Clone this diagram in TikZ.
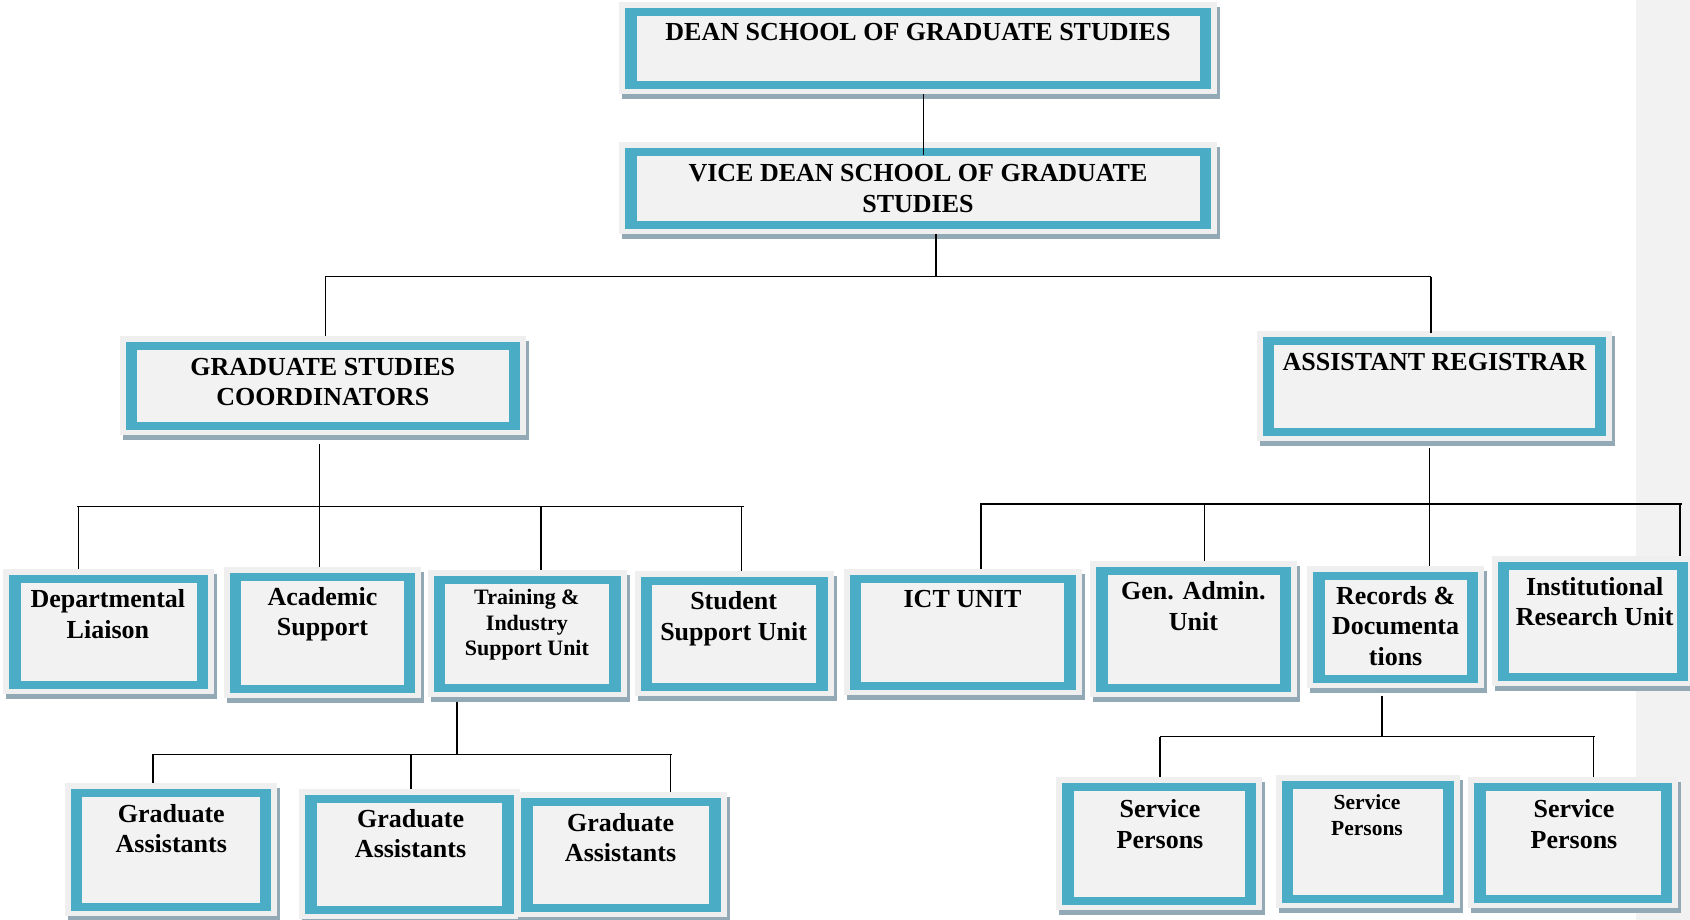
\documentclass[tikz,border=0pt]{standalone}
\usepackage{fontspec}
\setmainfont{Liberation Serif}
\definecolor{tealc}{HTML}{4BACC6}
\definecolor{innerc}{HTML}{F2F2F2}
\definecolor{panelc}{HTML}{EFEFEF}
\definecolor{shadowc}{HTML}{93A9B5}
\definecolor{stripc}{HTML}{F2F2F2}
\tikzset{
  conn/.style={draw=black, line width=1.4pt},
  panelbox/.style={rectangle, fill=panelc, inner sep=0pt, outer sep=0pt},
  boxtext/.style={anchor=north, align=center, inner sep=0pt, outer sep=0pt},
}
\newcommand\bigf{\fontsize{26}{30.5}\selectfont}
\newcommand\smallf{\fontsize{22}{25.5}\selectfont}
\newcommand\spf{\fontsize{21.5}{26}\selectfont}
% #1 name, #2-#5 teal frame x1 y1 x2 y2, #6 text centre x, #7 text top y, #8 font, #9 text
\newcommand\orgbox[9]{%
  \fill[shadowc] ({#2-3},{#3-1}) rectangle ({#4+9},{#5+10});
  \node[panelbox, minimum width={#4-#2+12}, minimum height={#5-#3+11}] (#1) at ({(#2+#4)/2},{(#3+#5)/2-0.5}) {};
  \fill[tealc] (#2,#3) rectangle (#4,#5);
  \fill[innerc] ({#2+11.5},{#3+8}) rectangle ({#4-11.5},{#5-8});
  \node[boxtext, font={\bfseries#8}] (#1-t) at (#6,#7) {#9};
}
\begin{document}
\begin{tikzpicture}[x=1pt,y=-1pt]
\useasboundingbox (0,0) rectangle (1690,920);
\fill[stripc] (1636,0) rectangle (1690,920);

% level 1-2
\orgbox{dean}{625}{8.3}{1211}{89}{918}{23.5}{\bigf}{DEAN SCHOOL OF GRADUATE STUDIES}
\orgbox{vdean}{625}{148}{1211}{229}{918}{164.5}{\bigf}{VICE DEAN SCHOOL OF GRADUATE\\STUDIES}
% level 3
\orgbox{gsc}{125.7}{342.3}{520.3}{430}{322.8}{357.8}{\bigf}{GRADUATE STUDIES\\COORDINATORS}
\orgbox{areg}{1262.8}{337.3}{1606.4}{435.7}{1434.5}{352.8}{\bigf}{ASSISTANT REGISTRAR}
% level 4
\orgbox{dl}{9.2}{575}{208.1}{689.3}{107.9}{589.7}{\bigf}{Departmental\\Liaison}
\orgbox{acs}{229.8}{573.3}{415.2}{693.3}{322.5}{587.4}{\bigf}{Academic\\Support}
\orgbox{tis}{433.6}{575.7}{620.6}{691.7}{526.9}{589.4}{\smallf}{Training \&\\Industry\\Support Unit}
\orgbox{ssu}{640.7}{576.7}{827.6}{691}{733.6}{591.7}{\bigf}{Student\\Support Unit}
\orgbox{ict}{849.8}{575}{1075.8}{690}{962.5}{590}{\bigf}{ICT UNIT}
\orgbox{gau}{1096.4}{567.3}{1291}{691.7}{1193.4}{581.7}{\bigf}{Gen. Admin.\\Unit}
\orgbox{rdoc}{1313.2}{572.3}{1478}{682.7}{1395.6}{586.4}{\bigf}{Records \&\\Documenta\\tions}
\orgbox{iru}{1497.5}{562.3}{1688}{680.7}{1594.7}{577.4}{\bigf}{Institutional\\Research Unit}
% level 5
\orgbox{ga1}{70.5}{789.3}{271}{911}{171.3}{804.1}{\bigf}{Graduate\\Assistants}
\orgbox{ga2}{305.1}{795}{513.8}{914}{410.6}{809.1}{\bigf}{Graduate\\Assistants}
\orgbox{ga3}{521.4}{798.3}{720.9}{911.7}{620.6}{813.4}{\bigf}{Graduate\\Assistants}
\orgbox{sp1}{1062.2}{783.3}{1256.3}{905}{1160}{799.5}{\bigf}{Service\\Persons}
\orgbox{sp2}{1281.7}{781}{1454.1}{902.7}{1367}{794.7}{\spf}{Service\\Persons}
\orgbox{sp3}{1474.1}{783.3}{1672}{902.7}{1574}{799.5}{\bigf}{Service\\Persons}

% junction coordinates
\coordinate (jA)  at (936,276.7);
\coordinate (jAl) at (325.2,276.7);
\coordinate (jAr) at (1430.8,276.7);
\coordinate (jB)  at (319.2,506.7);
\coordinate (jBl) at (77,506.7);
\coordinate (jBr) at (743.6,506.7);
\coordinate (bDL) at (78.6,506.7);
\coordinate (bTI) at (541,506.7);
\coordinate (bSS) at (741.5,506.7);
\coordinate (jC)  at (1429.7,504);
\coordinate (jCl) at (979.8,504);
\coordinate (jCr) at (1681.7,504);
\coordinate (cICT) at (981,504);
\coordinate (cGA) at (1204.2,504);
\coordinate (cIR) at (1680,504);
\coordinate (jD)  at (456.9,754.3);
\coordinate (jDl) at (152.8,754.3);
\coordinate (jDr) at (672,754.3);
\coordinate (dG2) at (410.8,754.3);
\coordinate (dG3) at (670.4,754.3);
\coordinate (jE)  at (1382,736.7);
\coordinate (jEl) at (1159.8,736.7);
\coordinate (jEr) at (1594.5,736.7);
\coordinate (eS3) at (1593.4,736.7);

% connectors
\draw[conn] ([xshift=5.7pt]dean.south) -- ([xshift=5.7pt,yshift=-13pt]vdean.north);
\draw[conn] ([xshift=18pt]vdean.south) -- (jA);
\draw[conn] (jAl) -- (jAr);
\draw[conn] (jAl) -- (jAl |- gsc.north);
\draw[conn] (jAr) -- ([yshift=-2pt]jAr |- areg.north);

\draw[conn] ([yshift=-9pt]jB |- gsc.south) -- (jB);
\draw[conn] (jBl) -- (jBr);
\draw[conn] (bDL) -- (bDL |- dl.north);
\draw[conn] (jB) -- (jB |- acs.north);
\draw[conn] (bTI) -- (bTI |- tis.north);
\draw[conn] (bSS) -- (bSS |- ssu.north);

\draw[conn] ([yshift=-7pt]jC |- areg.south) -- (jC);
\draw[conn] (jCl) -- (jCr);
\draw[conn] (cICT) -- (cICT |- ict.north);
\draw[conn] (cGA) -- (cGA |- gau.north);
\draw[conn] (jC) -- (jC |- rdoc.north);
\draw[conn] (cIR) -- (cIR |- iru.north);

\draw[conn] ([yshift=-5pt]jD |- tis.south) -- (jD);
\draw[conn] (jDl) -- (jDr);
\draw[conn] (jDl) -- (jDl |- ga1.north);
\draw[conn] (dG2) -- (dG2 |- ga2.north);
\draw[conn] (dG3) -- (dG3 |- ga3.north);

\draw[conn] ([yshift=-8pt]jE |- rdoc.south) -- (jE);
\draw[conn] (jEl) -- (jEr);
\draw[conn] (jEl) -- (jEl |- sp1.north);
\draw[conn] (eS3) -- (eS3 |- sp3.north);
\end{tikzpicture}
\end{document}
